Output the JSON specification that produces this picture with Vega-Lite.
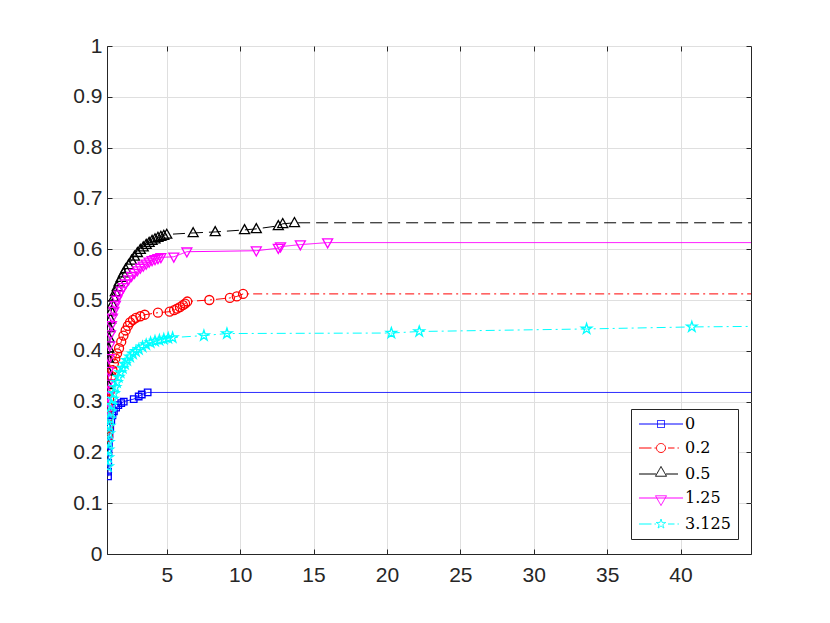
{
  "$schema": "https://vega.github.io/schema/vega-lite/v6.json",
  "autosize": {"type": "none"},
  "width": 644,
  "height": 508,
  "padding": {"left": 107, "top": 46, "right": 79, "bottom": 69},
  "background": "white",
  "config": {
    "view": {"stroke": "#262626", "strokeWidth": 1},
    "axis": {"labelFlush": false, "labelOverlap": false}
  },
  "data": {
    "values": [
      {"s": "0", "x": 1.0, "y": 0.153},
      {"s": "0", "x": 1.005, "y": 0.162},
      {"s": "0", "x": 1.01, "y": 0.18},
      {"s": "0", "x": 1.03, "y": 0.2},
      {"s": "0", "x": 1.06, "y": 0.218},
      {"s": "0", "x": 1.1, "y": 0.235},
      {"s": "0", "x": 1.15, "y": 0.25},
      {"s": "0", "x": 1.22, "y": 0.263},
      {"s": "0", "x": 1.3, "y": 0.273},
      {"s": "0", "x": 1.4, "y": 0.281},
      {"s": "0", "x": 1.55, "y": 0.288},
      {"s": "0", "x": 1.7, "y": 0.293},
      {"s": "0", "x": 1.9, "y": 0.297},
      {"s": "0", "x": 2.07, "y": 0.3},
      {"s": "0", "x": 2.75, "y": 0.305},
      {"s": "0", "x": 3.09, "y": 0.31},
      {"s": "0", "x": 3.3, "y": 0.314},
      {"s": "0", "x": 3.7, "y": 0.318},
      {"s": "0", "x": 44.8, "y": 0.318},

      {"s": "0.2", "x": 1.0, "y": 0.231},
      {"s": "0.2", "x": 1.01, "y": 0.25},
      {"s": "0.2", "x": 1.03, "y": 0.27},
      {"s": "0.2", "x": 1.05, "y": 0.288},
      {"s": "0.2", "x": 1.08, "y": 0.305},
      {"s": "0.2", "x": 1.12, "y": 0.32},
      {"s": "0.2", "x": 1.17, "y": 0.335},
      {"s": "0.2", "x": 1.23, "y": 0.35},
      {"s": "0.2", "x": 1.3, "y": 0.362},
      {"s": "0.2", "x": 1.4, "y": 0.375},
      {"s": "0.2", "x": 1.5, "y": 0.385},
      {"s": "0.2", "x": 1.62, "y": 0.395},
      {"s": "0.2", "x": 1.75, "y": 0.405},
      {"s": "0.2", "x": 1.9, "y": 0.418},
      {"s": "0.2", "x": 2.05, "y": 0.43},
      {"s": "0.2", "x": 2.2, "y": 0.44},
      {"s": "0.2", "x": 2.35, "y": 0.449},
      {"s": "0.2", "x": 2.5, "y": 0.456},
      {"s": "0.2", "x": 2.7, "y": 0.461},
      {"s": "0.2", "x": 2.9, "y": 0.465},
      {"s": "0.2", "x": 3.2, "y": 0.468},
      {"s": "0.2", "x": 3.5, "y": 0.471},
      {"s": "0.2", "x": 4.4, "y": 0.475},
      {"s": "0.2", "x": 5.2, "y": 0.477},
      {"s": "0.2", "x": 5.5, "y": 0.48},
      {"s": "0.2", "x": 5.7, "y": 0.483},
      {"s": "0.2", "x": 5.9, "y": 0.486},
      {"s": "0.2", "x": 6.1, "y": 0.49},
      {"s": "0.2", "x": 6.25, "y": 0.493},
      {"s": "0.2", "x": 6.4, "y": 0.497},
      {"s": "0.2", "x": 7.9, "y": 0.5},
      {"s": "0.2", "x": 9.3, "y": 0.504},
      {"s": "0.2", "x": 9.77, "y": 0.507},
      {"s": "0.2", "x": 10.2, "y": 0.512},
      {"s": "0.2", "x": 44.8, "y": 0.512},

      {"s": "0.5", "x": 1.0, "y": 0.333},
      {"s": "0.5", "x": 1.01, "y": 0.36},
      {"s": "0.5", "x": 1.03, "y": 0.385},
      {"s": "0.5", "x": 1.05, "y": 0.405},
      {"s": "0.5", "x": 1.08, "y": 0.425},
      {"s": "0.5", "x": 1.12, "y": 0.445},
      {"s": "0.5", "x": 1.17, "y": 0.462},
      {"s": "0.5", "x": 1.23, "y": 0.478},
      {"s": "0.5", "x": 1.3, "y": 0.492},
      {"s": "0.5", "x": 1.4, "y": 0.505},
      {"s": "0.5", "x": 1.5, "y": 0.516},
      {"s": "0.5", "x": 1.62, "y": 0.526},
      {"s": "0.5", "x": 1.75, "y": 0.535},
      {"s": "0.5", "x": 1.9, "y": 0.544},
      {"s": "0.5", "x": 2.05, "y": 0.553},
      {"s": "0.5", "x": 2.2, "y": 0.561},
      {"s": "0.5", "x": 2.4, "y": 0.569},
      {"s": "0.5", "x": 2.6, "y": 0.578},
      {"s": "0.5", "x": 2.8, "y": 0.586},
      {"s": "0.5", "x": 3.0, "y": 0.593},
      {"s": "0.5", "x": 3.2, "y": 0.599},
      {"s": "0.5", "x": 3.4, "y": 0.604},
      {"s": "0.5", "x": 3.6, "y": 0.609},
      {"s": "0.5", "x": 3.8, "y": 0.613},
      {"s": "0.5", "x": 4.0, "y": 0.617},
      {"s": "0.5", "x": 4.2, "y": 0.62},
      {"s": "0.5", "x": 4.4, "y": 0.623},
      {"s": "0.5", "x": 4.6, "y": 0.625},
      {"s": "0.5", "x": 4.8, "y": 0.627},
      {"s": "0.5", "x": 5.0, "y": 0.629},
      {"s": "0.5", "x": 6.8, "y": 0.632},
      {"s": "0.5", "x": 8.3, "y": 0.634},
      {"s": "0.5", "x": 10.3, "y": 0.638},
      {"s": "0.5", "x": 11.1, "y": 0.64},
      {"s": "0.5", "x": 12.6, "y": 0.646},
      {"s": "0.5", "x": 12.9, "y": 0.65},
      {"s": "0.5", "x": 13.7, "y": 0.652},
      {"s": "0.5", "x": 44.8, "y": 0.652},

      {"s": "1.25", "x": 1.0, "y": 0.284},
      {"s": "1.25", "x": 1.01, "y": 0.31},
      {"s": "1.25", "x": 1.03, "y": 0.335},
      {"s": "1.25", "x": 1.05, "y": 0.36},
      {"s": "1.25", "x": 1.08, "y": 0.385},
      {"s": "1.25", "x": 1.12, "y": 0.41},
      {"s": "1.25", "x": 1.17, "y": 0.432},
      {"s": "1.25", "x": 1.23, "y": 0.45},
      {"s": "1.25", "x": 1.3, "y": 0.465},
      {"s": "1.25", "x": 1.4, "y": 0.478},
      {"s": "1.25", "x": 1.5, "y": 0.49},
      {"s": "1.25", "x": 1.6, "y": 0.5},
      {"s": "1.25", "x": 1.75, "y": 0.51},
      {"s": "1.25", "x": 1.9, "y": 0.518},
      {"s": "1.25", "x": 2.05, "y": 0.525},
      {"s": "1.25", "x": 2.2, "y": 0.532},
      {"s": "1.25", "x": 2.4, "y": 0.54},
      {"s": "1.25", "x": 2.6, "y": 0.547},
      {"s": "1.25", "x": 2.8, "y": 0.553},
      {"s": "1.25", "x": 3.0, "y": 0.558},
      {"s": "1.25", "x": 3.2, "y": 0.563},
      {"s": "1.25", "x": 3.4, "y": 0.567},
      {"s": "1.25", "x": 3.6, "y": 0.571},
      {"s": "1.25", "x": 3.8, "y": 0.575},
      {"s": "1.25", "x": 4.0, "y": 0.578},
      {"s": "1.25", "x": 4.2, "y": 0.58},
      {"s": "1.25", "x": 4.4, "y": 0.582},
      {"s": "1.25", "x": 4.6, "y": 0.584},
      {"s": "1.25", "x": 5.48, "y": 0.585},
      {"s": "1.25", "x": 6.37, "y": 0.595},
      {"s": "1.25", "x": 11.1, "y": 0.597},
      {"s": "1.25", "x": 12.6, "y": 0.602},
      {"s": "1.25", "x": 12.75, "y": 0.605},
      {"s": "1.25", "x": 14.1, "y": 0.609},
      {"s": "1.25", "x": 15.96, "y": 0.613},
      {"s": "1.25", "x": 44.8, "y": 0.613},

      {"s": "3.125", "x": 1.0, "y": 0.172},
      {"s": "3.125", "x": 1.01, "y": 0.19},
      {"s": "3.125", "x": 1.02, "y": 0.205},
      {"s": "3.125", "x": 1.04, "y": 0.22},
      {"s": "3.125", "x": 1.07, "y": 0.237},
      {"s": "3.125", "x": 1.1, "y": 0.252},
      {"s": "3.125", "x": 1.14, "y": 0.266},
      {"s": "3.125", "x": 1.19, "y": 0.28},
      {"s": "3.125", "x": 1.25, "y": 0.293},
      {"s": "3.125", "x": 1.32, "y": 0.305},
      {"s": "3.125", "x": 1.4, "y": 0.316},
      {"s": "3.125", "x": 1.5, "y": 0.328},
      {"s": "3.125", "x": 1.6, "y": 0.338},
      {"s": "3.125", "x": 1.72, "y": 0.348},
      {"s": "3.125", "x": 1.85, "y": 0.357},
      {"s": "3.125", "x": 2.0, "y": 0.366},
      {"s": "3.125", "x": 2.15, "y": 0.374},
      {"s": "3.125", "x": 2.3, "y": 0.381},
      {"s": "3.125", "x": 2.5, "y": 0.388},
      {"s": "3.125", "x": 2.7, "y": 0.394},
      {"s": "3.125", "x": 2.9, "y": 0.399},
      {"s": "3.125", "x": 3.1, "y": 0.403},
      {"s": "3.125", "x": 3.35, "y": 0.408},
      {"s": "3.125", "x": 3.6, "y": 0.412},
      {"s": "3.125", "x": 3.9, "y": 0.416},
      {"s": "3.125", "x": 4.2, "y": 0.419},
      {"s": "3.125", "x": 4.5, "y": 0.421},
      {"s": "3.125", "x": 4.8, "y": 0.423},
      {"s": "3.125", "x": 5.1, "y": 0.425},
      {"s": "3.125", "x": 5.4, "y": 0.426},
      {"s": "3.125", "x": 7.53, "y": 0.43},
      {"s": "3.125", "x": 9.1, "y": 0.434},
      {"s": "3.125", "x": 20.3, "y": 0.435},
      {"s": "3.125", "x": 22.2, "y": 0.438},
      {"s": "3.125", "x": 33.6, "y": 0.443},
      {"s": "3.125", "x": 40.77, "y": 0.447},
      {"s": "3.125", "x": 44.8, "y": 0.448}
    ]
  },
  "layer": [
    {
      "mark": {"type": "line", "strokeWidth": 1, "clip": true},
      "encoding": {
        "x": {
          "field": "x",
          "type": "quantitative",
          "scale": {"domain": [0.93, 44.8], "nice": false, "zero": false},
          "axis": {
            "orient": "bottom",
            "title": null,
            "values": [5, 10, 15, 20, 25, 30, 35, 40],
            "format": "d",
            "grid": true,
            "gridColor": "#dfdfdf",
            "domainColor": "#262626",
            "tickColor": "#262626",
            "tickSize": -5,
            "labelFont": "Liberation Sans",
            "labelFontSize": 21,
            "labelColor": "#262626",
            "labelPadding": 15
          }
        },
        "y": {
          "field": "y",
          "type": "quantitative",
          "scale": {"domain": [0, 1], "nice": false},
          "axis": {
            "orient": "left",
            "title": null,
            "values": [0, 0.1, 0.2, 0.3, 0.4, 0.5, 0.6, 0.7, 0.8, 0.9, 1],
            "format": "~g",
            "grid": true,
            "gridColor": "#dfdfdf",
            "domainColor": "#262626",
            "tickColor": "#262626",
            "tickSize": -5,
            "labelFont": "Liberation Sans",
            "labelFontSize": 21,
            "labelColor": "#262626",
            "labelPadding": 10
          }
        },
        "color": {
          "field": "s",
          "type": "nominal",
          "scale": {
            "domain": ["0", "0.2", "0.5", "1.25", "3.125"],
            "range": ["#0000ff", "#ff0000", "#000000", "#ff00ff", "#00ffff"]
          },
          "legend": {
            "title": null,
            "orient": "none",
            "legendX": 524,
            "legendY": 363,
            "padding": 7,
            "strokeColor": "#262626",
            "fillColor": "white",
            "symbolSize": 100,
            "symbolOffset": 15,
            "symbolStrokeWidth": 1,
            "labelFont": "DejaVu Serif",
            "labelFontSize": 16,
            "labelColor": "black",
            "labelOffset": 16,
            "rowPadding": 8,
            "encode": {
              "symbols": {
                "update": {
                  "shape": {"signal": "datum.value === '0' ? 'M-4.4,0H4.4M-0.7,-0.7H0.7V0.7H-0.7Z' : datum.value === '0.2' ? 'M-4.4,0H-1.9M-1.3,0H-1M1.4,0H2.7M3.3,0H3.6M0.9,0A0.9,0.9,0,1,1,-0.9,0A0.9,0.9,0,1,1,0.9,0Z' : datum.value === '0.5' ? 'M-4.4,0H-1M1,0H3.4M0,-1.5L1.1,0.45L-1.1,0.45Z' : datum.value === '1.25' ? 'M-4.4,0H4.4M0,1.5L1.1,-0.45L-1.1,-0.45Z' : 'M-4.4,0H-1.9M-1.3,0H-1M1.4,0H2.7M3.3,0H3.6M0,-1L0.2245,-0.309L0.951,-0.309L0.3633,0.118L0.5878,0.809L0,0.382L-0.5878,0.809L-0.3633,0.118L-0.951,-0.309L-0.2245,-0.309Z'"},
                  "size": {"value": 100},
                  "fill": {"value": "transparent"},
                  "strokeDash": {"value": [1, 0]},
                  "strokeWidth": {"value": 1},
                  "opacity": {"value": 1}
                }
              }
            }
          }
        },
        "strokeDash": {
          "field": "s",
          "type": "nominal",
          "scale": {
            "range": [[1, 0], [9, 4, 2, 4], [12, 6], [1, 0], [9, 4, 2, 4]]
          },
          "legend": null
        }
      }
    },
    {
      "transform": [{"filter": "datum.x < 44.8"}],
      "mark": {"type": "point", "filled": false, "strokeWidth": 1.3, "opacity": 1, "size": 100, "clip": true},
      "encoding": {
        "x": {
          "field": "x",
          "type": "quantitative",
          "axis": {
            "orient": "top",
            "title": null,
            "values": [5, 10, 15, 20, 25, 30, 35, 40],
            "labels": false,
            "domain": false,
            "grid": false,
            "tickColor": "#262626",
            "tickSize": -5
          }
        },
        "y": {
          "field": "y",
          "type": "quantitative",
          "axis": {
            "orient": "right",
            "title": null,
            "values": [0, 0.1, 0.2, 0.3, 0.4, 0.5, 0.6, 0.7, 0.8, 0.9, 1],
            "labels": false,
            "domain": false,
            "grid": false,
            "tickColor": "#262626",
            "tickSize": -5
          }
        },
        "color": {"field": "s", "type": "nominal", "legend": null},
        "shape": {
          "field": "s",
          "type": "nominal",
          "scale": {
            "range": [
              "M-0.65,-0.65H0.65V0.65H-0.65Z",
              "M0.9,0A0.9,0.9,0,1,1,-0.9,0A0.9,0.9,0,1,1,0.9,0Z",
              "M0,-1.05L1,0.75L-1,0.75Z",
              "M0,1.05L1,-0.75L-1,-0.75Z",
              "M0,-1.1L0.247,-0.34L1.046,-0.34L0.4,0.13L0.647,0.89L0,0.42L-0.647,0.89L-0.4,0.13L-1.046,-0.34L-0.247,-0.34Z"
            ]
          },
          "legend": null
        }
      }
    }
  ]
}
